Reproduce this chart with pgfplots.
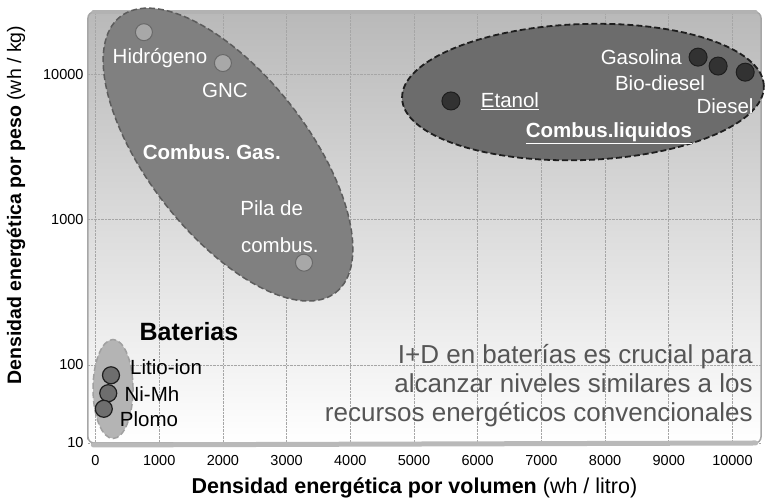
\documentclass[border=0pt]{standalone}
\usepackage{fontspec}
\setmainfont{Liberation Sans}
\usepackage{pgfplots}
\pgfplotsset{compat=1.18}
\usetikzlibrary{shapes.geometric}
\definecolor{bgtop}{RGB}{185,185,185}
\definecolor{gasfill}{RGB}{128,128,128}
\definecolor{gasedge}{RGB}{92,92,92}
\definecolor{liqfill}{RGB}{108,108,108}
\definecolor{liqedge}{RGB}{30,30,30}
\definecolor{batfill}{RGB}{180,180,180}
\definecolor{batedge}{RGB}{160,160,160}
\definecolor{gaspt}{RGB}{168,168,168}
\definecolor{gasptedge}{RGB}{105,105,105}
\definecolor{liqpt}{RGB}{50,50,50}
\definecolor{batpt}{RGB}{110,110,110}
\definecolor{bigtext}{RGB}{85,85,85}
\frenchspacing
\begin{document}
\begin{tikzpicture}
\useasboundingbox (0pt,0pt) rectangle (766pt,502pt);
\begin{axis}[
  at={(88pt,59pt)}, anchor=south west,
  scale only axis, width=673pt, height=431pt,
  xmin=-118, xmax=10448,
  ymode=log, ymin=29.1, ymax=26700,
  scaled x ticks=false,
  xtick={0,1000,2000,3000,4000,5000,6000,7000,8000,9000,10000},
  xticklabels={0,1000,2000,3000,4000,5000,6000,7000,8000,9000,10000},
  ytick={29.1,100,1000,10000},
  yticklabels={10,100,1000,10000},
  major tick length=0pt, minor tick length=0pt,
  grid=major,
  grid style={densely dotted, gray!70, line width=0.8pt},
  axis background/.style={top color=bgtop, bottom color=white, rounded corners=6pt},
  axis line style={draw=gray!70, line width=1.5pt, rounded corners=6pt},
  ticklabel style={font=\fontsize{14.5}{16}\selectfont},
  xticklabel style={yshift=-9pt},
  yticklabel style={xshift=-1pt},
  xlabel={\textbf{Densidad energética por volumen} (wh / litro)},
  ylabel={\textbf{Densidad energética por peso} (wh / kg)},
  xlabel style={at={(axis description cs:0.485,-0.104)}, anchor=center, font=\fontsize{21.5}{24}\selectfont},
  ylabel style={at={(axis description cs:-0.107,0.552)}, anchor=center, font=\fontsize{19.5}{22}\selectfont},
  clip=false,
]
% frame accents
\draw[gray!60, line width=4pt, line cap=round] (rel axis cs:0.008,1) -- (rel axis cs:0.992,1);
\draw[gray!55, line width=5pt, line cap=round] (rel axis cs:0.008,0) ++(0pt,-2pt) -- (rel axis cs:0.992,0);
% ellipses
\node[ellipse, inner sep=0pt, minimum width=350pt, minimum height=160pt, rotate=-52,
      fill=gasfill, draw=gasedge, line width=1.5pt, dash pattern=on 6pt off 3pt]
      at (axis cs:2080,2795) {};
\node[ellipse, inner sep=0pt, minimum width=362pt, minimum height=136pt, rotate=2,
      fill=liqfill, draw=liqedge, line width=1.8pt, dash pattern=on 6pt off 3pt]
      at (axis cs:7653,7520) {};
\node[ellipse, inner sep=0pt, minimum width=40pt, minimum height=99pt,
      fill=batfill, draw=batedge, line width=1.5pt, dash pattern=on 6pt off 3pt]
      at (axis cs:275,68.4) {};
% points
\addplot[only marks, mark=*, mark size=8.5pt, mark options={fill=gaspt, draw=gasptedge, line width=1pt}]
  coordinates {(760,19400) (2000,11900) (3273,505)};
\addplot[only marks, mark=*, mark size=9pt, mark options={fill=liqpt, draw=liqedge, line width=1pt}]
  coordinates {(5580,6530) (9460,13070) (9775,11350) (10200,10300)};
\addplot[only marks, mark=*, mark size=8.5pt, mark options={fill=batpt, draw=liqedge, line width=1.2pt}]
  coordinates {(243,85) (200,64) (130,50)};
% labels
\begin{scope}[every node/.style={font=\fontsize{20.5}{23}\selectfont, inner sep=0pt}]
\node[white] at (axis description cs:0.107,0.893) {Hidrógeno};
\node[white] at (axis description cs:0.2036,0.819) {GNC};
\node[white, font=\bfseries\fontsize{20.5}{23}\selectfont] at (axis description cs:0.184,0.675) {Combus. Gas.};
\node[white] at (axis description cs:0.273,0.545) {Pila de};
\node[white] at (axis description cs:0.285,0.459) {combus.};
\node[white] at (axis description cs:0.627,0.7935) {\underline{Etanol}};
\node[white] at (axis description cs:0.822,0.896) {Gasolina};
\node[white] at (axis description cs:0.850,0.835) {Bio-diesel};
\node[white] at (axis description cs:0.9465,0.782) {Diesel};
\node[white, font=\bfseries\fontsize{20.5}{23}\selectfont] at (axis description cs:0.774,0.719) {\underline{Combus.liquidos}};
\node[black, font=\bfseries\fontsize{25}{28}\selectfont] at (axis description cs:0.150,0.2575) {Baterias};
\node[black] at (axis description cs:0.116,0.176) {Litio-ion};
\node[black] at (axis description cs:0.095,0.114) {Ni-Mh};
\node[black] at (axis description cs:0.0906,0.0557) {Plomo};
\end{scope}
\begin{scope}[every node/.style={font=\fontsize{26}{29}\selectfont, inner sep=0pt, text=bigtext, anchor=base east}]
\node at (axis description cs:0.988,0.1856) {I+D en baterías es crucial para};
\node at (axis description cs:0.988,0.1183) {alcanzar niveles similares a los};
\node at (axis description cs:0.988,0.051) {recursos energéticos convencionales};
\end{scope}
\end{axis}
\end{tikzpicture}
\end{document}
